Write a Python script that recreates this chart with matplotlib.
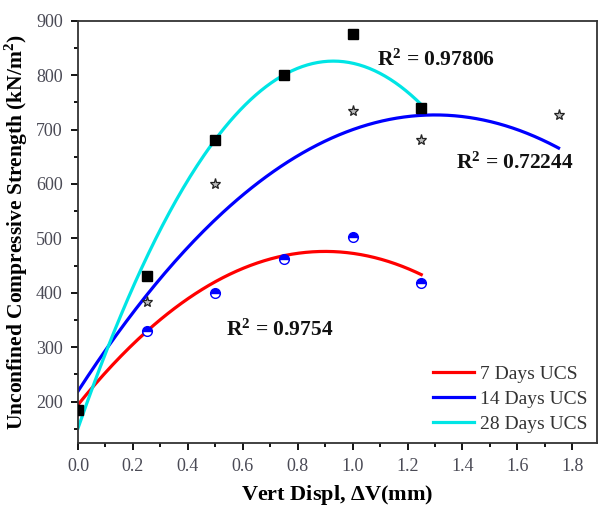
import numpy as np
import matplotlib
matplotlib.use("Agg")
import matplotlib.pyplot as plt
from matplotlib.ticker import MultipleLocator, FormatStrFormatter

plt.rcParams['font.family'] = ['Liberation Serif', 'DejaVu Serif']
plt.rcParams['mathtext.fontset'] = 'custom'
plt.rcParams['mathtext.rm'] = 'Liberation Serif'
plt.rcParams['mathtext.bf'] = 'Liberation Serif:bold'

# Measured unconfined compressive strength vs vertical displacement
x_7 = [0.0, 0.25, 0.5, 0.75, 1.0, 1.25]
ucs_7 = [185, 330, 400, 462, 502, 418]

x_14 = [0.0, 0.25, 0.5, 1.0, 1.25, 1.75]
ucs_14 = [185, 383, 600, 735, 681, 726]

x_28 = [0.0, 0.25, 0.5, 0.75, 1.0, 1.25]
ucs_28 = [185, 430, 680, 800, 875, 740]

labels = ["7 Days UCS", "14 Days UCS", "28 Days UCS"]
r2_text = ["0.9754", "0.72244", "0.97806"]

# Quadratic trend lines: value at zero, vertex position and vertex value
fit_start = [194, 219, 151]
fit_peak_x = [0.90, 1.30, 0.93]
fit_peak_y = [476, 727, 826]
fit_range = [(0.0, 1.25), (0.0, 1.75), (0.0, 1.25)]
colors = ['red', 'blue', '#00e5e5']

fig = plt.figure(figsize=(6.0, 5.09), dpi=100)
ax = fig.add_axes([0.13, 0.13, 0.865, 0.829])

for s0, px, py, (x0, x1), col, lab in zip(fit_start, fit_peak_x, fit_peak_y,
                                         fit_range, colors, labels):
    k = (py - s0) / px ** 2
    xs = np.linspace(x0, x1, 200)
    ax.plot(xs, py - k * (xs - px) ** 2, color=col, lw=2.3, label=lab, zorder=2)

ax.plot(x_7, ucs_7, ls='none', marker='o', ms=7, fillstyle='top',
        markerfacecolor='blue', markerfacecoloralt='white',
        markeredgecolor='blue', markeredgewidth=1.0, zorder=3)
ax.plot(x_14, ucs_14, ls='none', marker='*', ms=8, markerfacecolor='#bbbbbb',
        markeredgecolor='#222222', markeredgewidth=0.9, zorder=4)
ax.plot(x_28, ucs_28, ls='none', marker='s', ms=6.5, color='black', zorder=5)

r2_pos = [(0.54, 332), (1.375, 639), (1.09, 828)]
for (tx, ty), r2 in zip(r2_pos, r2_text):
    ax.text(tx, ty, r"$\mathbf{R^2}$ = " + r2, fontsize=15.5, fontweight='bold',
            va='center', ha='left', color='#111111')

ax.set_xlim(0, 1.89)
ax.set_ylim(124, 900)
ax.xaxis.set_major_locator(MultipleLocator(0.2))
ax.xaxis.set_minor_locator(MultipleLocator(0.1))
ax.yaxis.set_minor_locator(MultipleLocator(50))
ax.set_yticks(np.arange(200, 901, 100))
ax.xaxis.set_major_formatter(FormatStrFormatter('%.1f'))

ax.tick_params(which='both', direction='out', top=False, right=False, width=1.3)
ax.tick_params(which='major', length=5, labelsize=13, labelcolor='#4a4a55', pad=6)
ax.tick_params(which='minor', length=3)
for sp in ax.spines.values():
    sp.set_linewidth(1.3)
    sp.set_color('#333333')

ax.set_xlabel(r"Vert Displ, $\mathbf{\Delta}$V(mm)", fontsize=16, fontweight='bold', labelpad=6)
ax.set_ylabel(r"Unconfined Compressive Strength (kN/m$^\mathbf{2}$)", fontsize=15.5,
              fontweight='bold', labelpad=4)

leg = ax.legend(loc='lower right', frameon=False, fontsize=14, handlelength=2.1,
                handletextpad=0.3, labelspacing=0.38, borderaxespad=0.1)
for t in leg.get_texts():
    t.set_color('#333333')

fig.savefig("out.png", dpi=100)
